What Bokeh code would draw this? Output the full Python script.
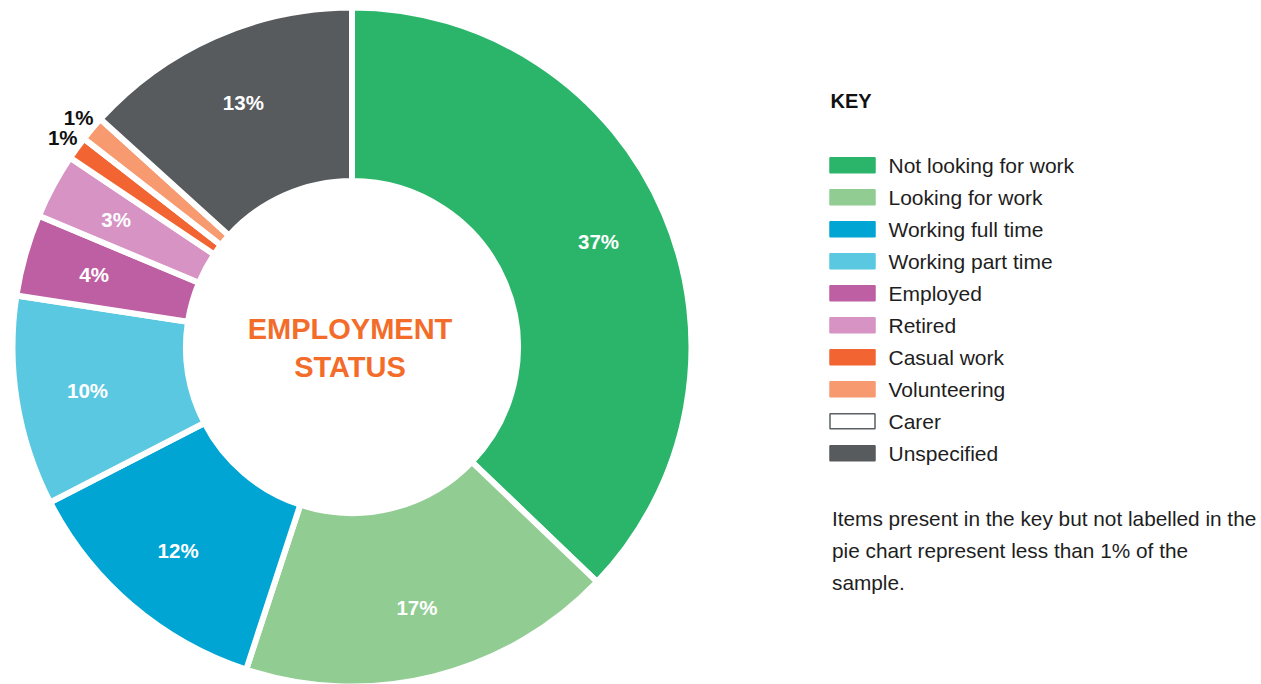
import math
from bokeh.plotting import figure
from bokeh.models import Range1d, ColumnDataSource
from bokeh.core.properties import value
from bokeh.embed import file_html
from bokeh.resources import INLINE

# ---- data ----
categories = ["Not looking for work", "Looking for work", "Working full time",
              "Working part time", "Employed", "Retired", "Casual work",
              "Volunteering", "Carer", "Unspecified"]
shares = [37.2, 17.9, 12.4, 10.0, 3.9, 3.1, 1.1, 1.2, 0.0, 13.3]
pct_labels = ["37%", "17%", "12%", "10%", "4%", "3%", "1%", "1%", "", "13%"]
colors = ["#2BB56A", "#91CC93", "#00A5D3", "#5BC8E1", "#BE5FA3",
          "#D693C3", "#F26532", "#F79A70", "#FFFFFF", "#575B5E"]
center_title = ["EMPLOYMENT", "STATUS"]
key_title = "KEY"
note_lines = ["Items present in the key but not labelled in the",
              "pie chart represent less than 1% of the",
              "sample."]

W, H = 1261, 684
FONT = value("Liberation Sans")
cx, cy = 351.5, 337.5
r_out, r_in = 336.5, 169.0
gap = 6

p = figure(width=W, height=H, output_backend="svg", toolbar_location=None,
           x_range=Range1d(0, W), y_range=Range1d(0, H), min_border=0)
p.axis.visible = False
p.grid.visible = False
p.outline_line_color = None
p.background_fill_color = "white"
p.border_fill_color = "white"

total = sum(shares)
starts, ends, mids = [], [], []
cum = 0.0
for s in shares:
    a0 = math.pi / 2 - cum / total * 2 * math.pi
    cum += s
    a1 = math.pi / 2 - cum / total * 2 * math.pi
    if a1 < 0:
        a0 += 2 * math.pi
        a1 += 2 * math.pi
    starts.append(a1)
    ends.append(a0)
    mids.append((a0 + a1) / 2)

keep = [i for i, s in enumerate(shares) if s > 0]
src = ColumnDataSource(dict(start=[starts[i] for i in keep], end=[ends[i] for i in keep],
                            color=[colors[i] for i in keep],
                            x=[cx] * len(keep), y=[cy] * len(keep)))
p.annular_wedge(x="x", y="y", inner_radius=r_in - gap / 2, outer_radius=r_out + gap / 2,
                start_angle="start", end_angle="end", direction="anticlock",
                fill_color="color", line_color="white", line_width=gap, source=src)

# slice labels
in_x, in_y, in_t, out_x, out_y, out_t = [], [], [], [], [], []
for lab, s, m in zip(pct_labels, shares, mids):
    if not lab:
        continue
    if s < 2:
        out_x.append(cx + 357 * math.cos(m)); out_y.append(cy + 357 * math.sin(m)); out_t.append(lab)
    else:
        in_x.append(cx + 268 * math.cos(m)); in_y.append(cy + 268 * math.sin(m)); in_t.append(lab)
p.text(x=in_x, y=in_y, text=in_t, text_color="white", text_font=FONT,
       text_font_style="bold", text_font_size="20.5px", text_align="center",
       text_baseline="middle")
p.text(x=out_x, y=out_y, text=out_t, text_color="#111111", text_font=FONT,
       text_font_style="bold", text_font_size="20.5px", text_align="center",
       text_baseline="middle")

# center title
p.text(x=[349.5, 349.5], y=[356, 318], text=center_title, text_color="#F36C2A",
       text_font=FONT, text_font_style="bold", text_font_size="29px",
       text_align="center", text_baseline="middle")

# key
p.text(x=[830], y=[583.3], text=[key_title], text_color="#111111", text_font=FONT,
       text_font_style="bold", text_font_size="20px", text_align="left",
       text_baseline="middle")
row_y = [684 - (164.7 + 32 * i) for i in range(len(categories))]
line_cols = [c if c != "#FFFFFF" else "#5A6064" for c in colors]
p.rect(x=[852] * len(categories), y=row_y, width=45, height=15, fill_color=colors,
       line_color=line_cols, line_width=1.5)
p.text(x=[888] * len(categories), y=row_y, text=categories, text_color="#1E1E1E",
       text_font=FONT, text_font_size="21px", text_align="left", text_baseline="middle")

# note
p.text(x=[831.5] * 3, y=[166, 134, 102], text=note_lines, text_color="#1E1E1E",
       text_font=FONT, text_font_size="20.8px", text_align="left", text_baseline="middle")

open("out.html", "w").write(file_html(p, INLINE))
